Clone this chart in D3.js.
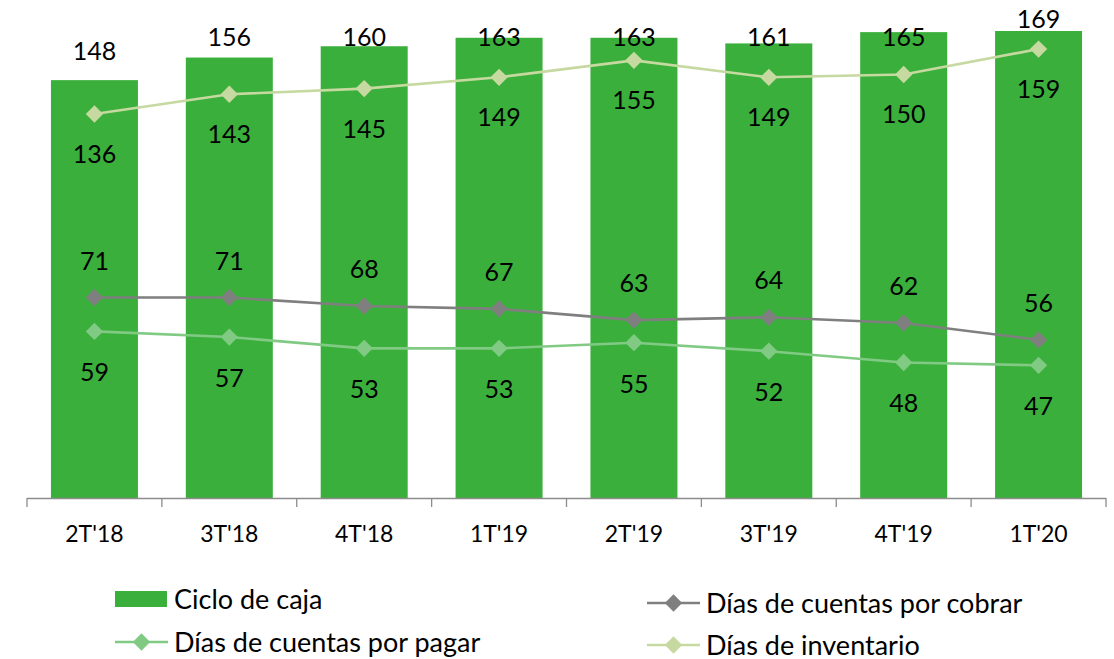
<!DOCTYPE html>
<html><head><meta charset="utf-8">
<script src="https://cdn.jsdelivr.net/npm/d3@7"></script>
<style>
html,body{margin:0;padding:0;background:#fff;}
svg{display:block;font-family:Lato, Calibri, sans-serif;}
</style></head>
<body><svg id="c" width="1114" height="659"></svg>
<script>
const categories = ["2T'18","3T'18","4T'18","1T'19","2T'19","3T'19","4T'19","1T'20"];
const cicloCaja = [148,156,160,163,163,161,165,169];
const diasCobrar = [71,71,68,67,63,64,62,56];
const diasPagar = [59,57,53,53,55,52,48,47];
const diasInventario = [136,143,145,149,155,149,150,159];
const seriesNames = ["Ciclo de caja","Días de cuentas por cobrar","Días de cuentas por pagar","Días de inventario"];
const yMax = 165.4;

const W = 1114, H = 659;
const plot = {left: 27, right: 1106, top: 31, bottom: 498};
const svg = d3.select("#c");

const colors = {bar: "#3BAF3B", cobrar: "#7F7F7F", pagar: "#80CA84", inv: "#C6D9A0"};
const fs = 25;

const xBand = d3.scaleBand().domain(categories).range([plot.left, plot.right]).padding(0);
const x = d3.scaleBand().domain(categories).range([plot.left, plot.right]).paddingInner(0.355).paddingOuter(0.1775);
const y = d3.scaleLinear().domain([0, yMax]).range([plot.bottom, plot.top]);
const cx = c => x(c) + x.bandwidth()/2;

svg.append("clipPath").attr("id","clip").append("rect")
  .attr("x", plot.left).attr("y", plot.top).attr("width", plot.right-plot.left).attr("height", plot.bottom-plot.top);

// bars
svg.append("g").attr("clip-path","url(#clip)").selectAll("rect").data(cicloCaja).join("rect")
  .attr("x", (d,i) => x(categories[i])).attr("width", x.bandwidth())
  .attr("y", d => y(d)).attr("height", d => y(0) - y(d))
  .attr("fill", colors.bar);

// axis
const ax = svg.append("g").attr("stroke", "#8C8C8C").attr("stroke-width", 1.3);
ax.append("line").attr("x1", plot.left).attr("x2", plot.right).attr("y1", plot.bottom+0.5).attr("y2", plot.bottom+0.5);
const tickXs = categories.map(c => xBand(c)).concat([plot.right]);
ax.selectAll("line.t").data(tickXs).join("line").attr("class","t")
  .attr("x1", d => d).attr("x2", d => d).attr("y1", plot.bottom).attr("y2", plot.bottom + 9);

svg.append("g").selectAll("text").data(categories).join("text")
  .attr("x", d => cx(d)).attr("y", 542).attr("text-anchor","middle")
  .attr("font-size", 23).attr("fill", "#000").text(d => d);

// lines
function drawLine(vals, color) {
  const line = d3.line().x((d,i) => cx(categories[i])).y(d => y(d));
  svg.append("path").datum(vals).attr("d", line).attr("fill","none").attr("stroke", color).attr("stroke-width", 2.6);
  svg.append("g").selectAll("path").data(vals).join("path")
    .attr("d", d3.symbol().type(d3.symbolSquare).size(150)())
    .attr("fill", color).attr("transform", (d,i) => `translate(${cx(categories[i])},${y(d)}) rotate(45)`);
}
drawLine(diasInventario, colors.inv);
drawLine(diasCobrar, colors.cobrar);
drawLine(diasPagar, colors.pagar);

// labels
const lab = svg.append("g").attr("font-size", fs).attr("fill","#000").attr("text-anchor","middle");
lab.selectAll("text.b").data(cicloCaja).join("text").attr("class","b")
  .attr("x", (d,i) => cx(categories[i]))
  .attr("y", d => d > yMax ? plot.top - 3 : Math.max(y(d) - 20, plot.top + 15))
  .text(d => d);
lab.selectAll("text.inv").data(diasInventario).join("text").attr("class","inv")
  .attr("x", (d,i) => cx(categories[i])).attr("y", d => y(d) + 49).text(d => d);
lab.selectAll("text.cob").data(diasCobrar).join("text").attr("class","cob")
  .attr("x", (d,i) => cx(categories[i])).attr("y", d => y(d) - 28).text(d => d);
lab.selectAll("text.pag").data(diasPagar).join("text").attr("class","pag")
  .attr("x", (d,i) => cx(categories[i])).attr("y", d => y(d) + 50).text(d => d);

// legend
const leg = svg.append("g").attr("font-size", 27);
const items = [
  {name: seriesNames[0], type:"bar", color: colors.bar, x: 115, y: 599},
  {name: seriesNames[1], type:"line", color: colors.cobrar, x: 647, y: 603},
  {name: seriesNames[2], type:"line", color: colors.pagar, x: 115, y: 642},
  {name: seriesNames[3], type:"line", color: colors.inv, x: 647, y: 645}
];
items.forEach(it => {
  const g = leg.append("g").attr("transform", `translate(${it.x},${it.y})`);
  if (it.type === "bar") {
    g.append("rect").attr("x",0).attr("y",-8).attr("width",52).attr("height",16).attr("fill",it.color);
  } else {
    g.append("line").attr("x1",0).attr("x2",53).attr("y1",0).attr("y2",0).attr("stroke",it.color).attr("stroke-width",2.6);
    g.append("path").attr("d", d3.symbol().type(d3.symbolSquare).size(150)()).attr("fill", it.color)
      .attr("transform","translate(26.5,0) rotate(45)");
  }
  g.append("text").attr("x", 59).attr("y", 9.5).attr("fill","#000").text(it.name);
});
</script></body></html>
